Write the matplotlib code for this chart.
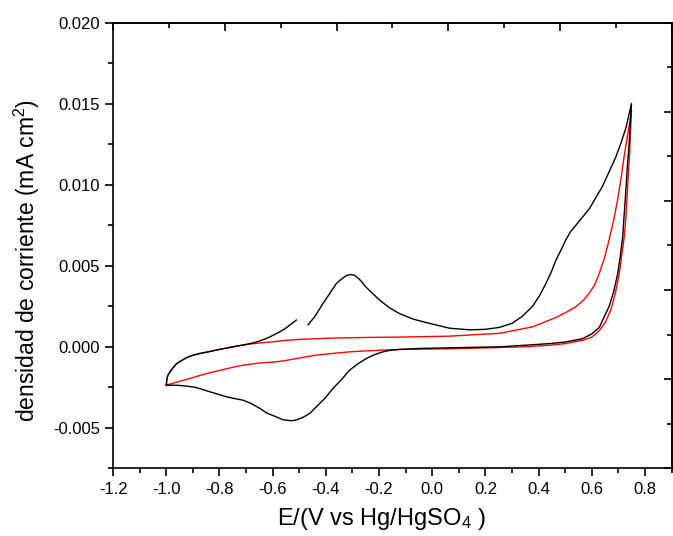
import numpy as np
import matplotlib
matplotlib.use('Agg')
import matplotlib.pyplot as plt
from matplotlib.ticker import MultipleLocator, FixedLocator, NullFormatter

plt.rcParams['font.family'] = ['Liberation Sans', 'DejaVu Sans']
plt.rcParams['mathtext.fontset'] = 'custom'
plt.rcParams['mathtext.rm'] = 'Liberation Sans'
plt.rcParams['mathtext.it'] = 'Liberation Sans:italic'

# Black curve: left piece of the upper branch (ends before the gap)
black_a_x = [-1.0, -0.997, -0.992, -0.986, -0.975, -0.961, -0.943, -0.923, -0.9, -0.874, -0.84, -0.80,
             -0.75, -0.698, -0.66, -0.623, -0.6, -0.573, -0.555, -0.536, -0.511]
black_a_y = [-0.00236, -0.0019, -0.0017, -0.00154, -0.0013, -0.00103, -0.00085, -0.00066, -0.00052,
             -0.00041, -0.0003, -0.00016, 0.0, 0.00015, 0.0003, 0.00052, 0.0007, 0.00093, 0.0011,
             0.00134, 0.00165]

# Black curve: anodic peak -> right vertex -> lower branch -> left vertex
black_b_x = [-0.467, -0.44, -0.411, -0.385, -0.361, -0.34, -0.32, -0.305, -0.29, -0.27, -0.25, -0.225,
             -0.198, -0.16, -0.123, -0.07, -0.011, 0.065, 0.14, 0.2, 0.252, 0.3, 0.34, 0.377, 0.405,
             0.427, 0.447, 0.465, 0.485, 0.502, 0.52, 0.54, 0.565, 0.59, 0.615, 0.64, 0.665, 0.69,
             0.71, 0.728, 0.749,
             0.74, 0.733, 0.728, 0.72, 0.716, 0.707, 0.697, 0.682, 0.665, 0.645, 0.628, 0.6, 0.565,
             0.5, 0.44, 0.35, 0.252, 0.065, -0.05, -0.123, -0.16, -0.186, -0.22, -0.248, -0.28,
             -0.311, -0.34, -0.373, -0.405, -0.436, -0.46, -0.486, -0.51, -0.529, -0.56, -0.586,
             -0.62, -0.648, -0.68, -0.711, -0.74, -0.773, -0.81, -0.848, -0.89, -0.923, -0.96, -1.0]
black_b_y = [0.00136, 0.0019, 0.00267, 0.0033, 0.0039, 0.0042, 0.00442, 0.00446, 0.0044, 0.0041,
             0.0037, 0.0033, 0.00288, 0.0024, 0.00205, 0.0017, 0.00145, 0.00115, 0.00105, 0.00108,
             0.0012, 0.00145, 0.0019, 0.0025, 0.0032, 0.0039, 0.0046, 0.00535, 0.006, 0.0066,
             0.0071, 0.0075, 0.008, 0.0085, 0.0092, 0.0099, 0.0108, 0.0117, 0.0126, 0.0135, 0.0150,
             0.0125, 0.011, 0.0097, 0.0078, 0.0068, 0.0056, 0.0045, 0.0034, 0.0025, 0.0018, 0.0012,
             0.0008, 0.0005, 0.0003, 0.0002, 0.0001, 0.0, -0.00006, -0.0001, -0.00016, -0.00022,
             -0.00031, -0.0005, -0.00072, -0.00105, -0.00144, -0.002, -0.00256, -0.0032, -0.0037,
             -0.0041, -0.00435, -0.0045, -0.00456, -0.0045, -0.00432, -0.0041, -0.0038, -0.0035,
             -0.00329, -0.0032, -0.00308, -0.0029, -0.00271, -0.0025, -0.00242, -0.00237, -0.00236]

# Red curve: closed loop
red_x = [-1.0, -0.997, -0.992, -0.986, -0.975, -0.961, -0.943, -0.923, -0.9, -0.874, -0.84, -0.80,
         -0.75, -0.698, -0.65, -0.598, -0.55, -0.498, -0.373, -0.248, -0.123, 0.065, 0.252, 0.377,
         0.465, 0.5, 0.54, 0.57, 0.59, 0.61, 0.628, 0.648, 0.665, 0.682, 0.696, 0.71, 0.721, 0.732,
         0.74, 0.749,
         0.742, 0.734, 0.728, 0.722, 0.712, 0.703, 0.688, 0.671, 0.65, 0.628, 0.6, 0.565, 0.5, 0.44,
         0.35, 0.252, 0.065, -0.123, -0.186, -0.25, -0.311, -0.37, -0.436, -0.48, -0.523, -0.56,
         -0.598, -0.65, -0.711, -0.76, -0.811, -0.86, -0.911, -0.955, -1.0]
red_y = [-0.00236, -0.0019, -0.0017, -0.00154, -0.0013, -0.00103, -0.00085, -0.00066, -0.00052,
         -0.00041, -0.0003, -0.00016, 0.0, 0.00015, 0.00024, 0.00031, 0.0004, 0.00046, 0.00054,
         0.00058, 0.0006, 0.00066, 0.00083, 0.00123, 0.00181, 0.0021, 0.00247, 0.0029, 0.0033,
         0.0038, 0.00453, 0.0055, 0.0066, 0.0078, 0.009, 0.0104, 0.0117, 0.0128, 0.0136, 0.0146,
         0.012, 0.0097, 0.008, 0.0068, 0.0056, 0.0045, 0.0033, 0.00226, 0.0015, 0.001, 0.0006,
         0.0004, 0.0002, 0.0001, 0.0, -0.00004, -0.00012, -0.00016, -0.0002, -0.00025, -0.00031,
         -0.0004, -0.00051, -0.00063, -0.00076, -0.00087, -0.00094, -0.001, -0.00113, -0.0013,
         -0.0015, -0.0017, -0.00195, -0.00215, -0.00236]

x_ticks = [-1.2, -1.0, -0.8, -0.6, -0.4, -0.2, 0.0, 0.2, 0.4, 0.6, 0.8]
y_ticks = [-0.005, 0.000, 0.005, 0.010, 0.015, 0.020]

fig = plt.figure(figsize=(6.73, 5.36), dpi=100)
ax = fig.add_axes([0.168, 0.126, 0.830, 0.832])

ax.plot(red_x, red_y, color='red', linewidth=1.0)
ax.plot(black_a_x, black_a_y, color='black', linewidth=1.0)
ax.plot(black_b_x, black_b_y, color='black', linewidth=1.0)

ax.set_xlim(-1.2, 0.9)
ax.set_ylim(-0.0075, 0.020)
ax.set_xticks(x_ticks)
ax.set_xticklabels(['%.1f' % v for v in x_ticks])
ax.set_yticks(y_ticks)
ax.set_yticklabels(['%.3f' % v for v in y_ticks])
ax.xaxis.set_minor_locator(MultipleLocator(0.1))
ax.yaxis.set_minor_locator(MultipleLocator(0.0025))
ax.tick_params(which='major', direction='out', length=6, width=1.2, labelsize=12)
ax.tick_params(which='minor', direction='out', length=3.5, width=1.2)
for s in ax.spines.values():
    s.set_linewidth(1.2)

# Opposite axes: ticks inward, no labels
top = ax.secondary_xaxis('top')
top.xaxis.set_major_locator(FixedLocator(np.linspace(-1.2, 0.9, 6)))
top.xaxis.set_minor_locator(FixedLocator(np.linspace(-1.2, 0.9, 11)))
top.xaxis.set_major_formatter(NullFormatter())
top.tick_params(which='major', direction='in', length=6, width=1.2)
top.tick_params(which='minor', direction='in', length=3.5, width=1.2)
top.spines['top'].set_linewidth(1.2)

right = ax.secondary_yaxis('right')
right.yaxis.set_major_locator(FixedLocator(np.linspace(-0.0075, 0.020, 6)))
right.yaxis.set_minor_locator(FixedLocator(np.linspace(-0.0075, 0.020, 11)))
right.yaxis.set_major_formatter(NullFormatter())
right.tick_params(which='major', direction='in', length=6, width=1.2)
right.tick_params(which='minor', direction='in', length=3.5, width=1.2)
right.spines['right'].set_linewidth(1.2)

ax.set_xlabel('E/(V vs Hg/HgSO$_4$ )', fontsize=17)
ax.set_ylabel('densidad de corriente (mA cm$^2$)', fontsize=16.5)
ax.xaxis.set_label_coords(0.481, -0.085)
ax.yaxis.set_label_coords(-0.128, 0.467)

fig.savefig('out.png', dpi=100)
